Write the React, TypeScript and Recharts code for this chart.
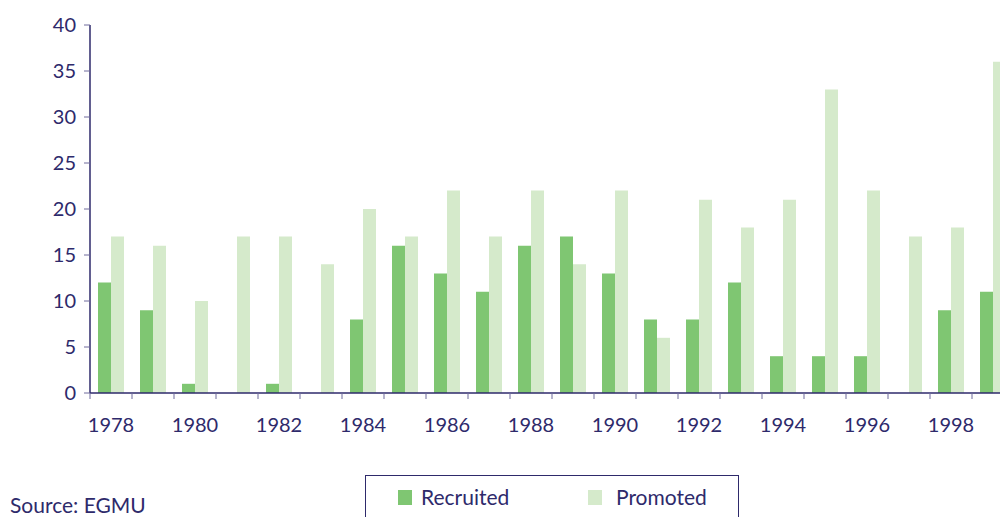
import React from 'react';
import { BarChart, Bar, XAxis, YAxis } from 'recharts';

const years = [
  '1978', '1979', '1980', '1981', '1982', '1983', '1984', '1985', '1986', '1987', '1988',
  '1989', '1990', '1991', '1992', '1993', '1994', '1995', '1996', '1997', '1998', '1999'
];
const recruited = [12, 9, 1, 0, 1, 0, 8, 16, 13, 11, 16, 17, 13, 8, 8, 12, 4, 4, 4, 0, 9, 11];
const promoted = [17, 16, 10, 17, 17, 14, 20, 17, 22, 17, 22, 14, 22, 6, 21, 18, 21, 33, 22, 17, 18, 36];
const yTicks = [0, 5, 10, 15, 20, 25, 30, 35, 40];

const NAVY = '#2e2a6b';
const TICK = '#6f6a9c';
const RECRUITED = '#7fc672';
const PROMOTED = '#d5eacb';
const FONT = 'Lato, "Open Sans", sans-serif';
const BAND = 42; // width of one year on the x axis

const data = years.map((y, i) => ({ year: y, recruited: recruited[i], promoted: promoted[i] }));

// ticks sit between categories, labels only on every other year
const YearTick = (props: any) => {
  const { x, y, payload } = props;
  const lx = x - BAND / 2;
  return (
    <g>
      <line x1={lx} y1={y - 6} x2={lx} y2={y} stroke={TICK} strokeWidth={1} />
      {payload.index % 2 === 0 && (
        <text x={x} y={y + 33} textAnchor="middle" fill={NAVY} fontSize={20} fontFamily={FONT}>
          {payload.value}
        </text>
      )}
    </g>
  );
};

const LegendBox = () => (
  <div
    style={{
      position: 'absolute',
      left: 357,
      top: 467,
      width: 374,
      height: 60,
      border: `1px solid ${NAVY}`,
      fontFamily: FONT,
      fontSize: 21,
      color: NAVY,
      boxSizing: 'border-box'
    }}
  >
    <div style={{ position: 'absolute', left: 32, top: 14, width: 14, height: 15, background: RECRUITED }} />
    <div style={{ position: 'absolute', left: 55, top: 8, lineHeight: '26px' }}>Recruited</div>
    <div style={{ position: 'absolute', left: 222, top: 14, width: 14, height: 15, background: PROMOTED }} />
    <div style={{ position: 'absolute', left: 250, top: 8, lineHeight: '26px' }}>Promoted</div>
  </div>
);

export default function App() {
  return (
    <div style={{ position: 'relative', width: 1000, height: 509, overflow: 'hidden' }}>
      <BarChart
        width={1006}
        height={509}
        data={data}
        margin={{ top: 17, right: 0, left: 0, bottom: 0 }}
        barGap={0}
        barCategoryGap={8}
      >
        <XAxis
          dataKey="year"
          interval={0}
          tickLine={false}
          tickSize={6}
          tickMargin={0}
          axisLine={{ stroke: NAVY, strokeWidth: 1.5 }}
          tick={<YearTick />}
          height={124}
        />
        <YAxis
          domain={[0, 40]}
          ticks={yTicks}
          width={82}
          tickSize={6}
          tickMargin={8}
          axisLine={{ stroke: NAVY, strokeWidth: 1.5 }}
          tickLine={{ stroke: TICK }}
          tick={{ fill: NAVY, fontSize: 20, fontFamily: FONT }}
        />
        <Bar dataKey="recruited" name="Recruited" fill={RECRUITED} isAnimationActive={false} />
        <Bar dataKey="promoted" name="Promoted" fill={PROMOTED} isAnimationActive={false} />
      </BarChart>
      <div
        style={{
          position: 'absolute',
          left: 2,
          top: 484,
          fontFamily: FONT,
          fontSize: 21,
          color: NAVY,
          lineHeight: '26px'
        }}
      >
        Source: EGMU
      </div>
      <LegendBox />
    </div>
  );
}
